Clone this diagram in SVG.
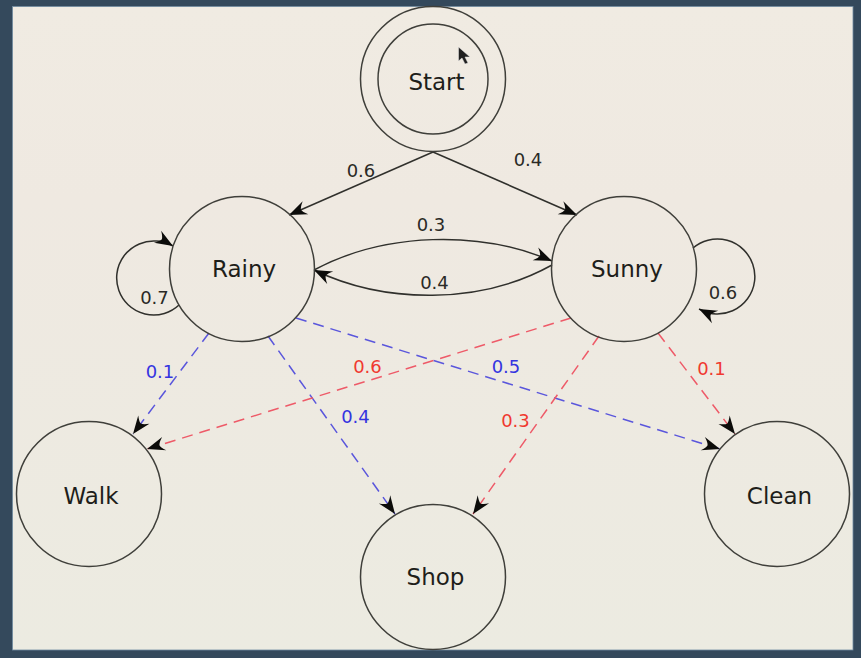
<svg xmlns="http://www.w3.org/2000/svg" width="861" height="658" viewBox="0 0 861 658">
<style>
.n{fill:none;stroke:#3f3f3a;stroke-width:1.5}
.e{fill:none;stroke:#30302c;stroke-width:1.5}
.b{fill:none;stroke:#5a56dc;stroke-width:1.5;stroke-dasharray:11 7}
.r{fill:none;stroke:#ee5a68;stroke-width:1.5;stroke-dasharray:11 7}
text{font-family:"DejaVu Sans",sans-serif;text-anchor:middle}
.t{font-size:23px;fill:#1e1e1a}
.l{font-size:18px;fill:#2a2a26}
.lb{font-size:18px;fill:#3434e0}
.lr{font-size:18px;fill:#f03a30}
</style>
<defs>
<linearGradient id="bg" x1="0" y1="0" x2="0" y2="1">
<stop offset="0" stop-color="#f0ebe2"/><stop offset="0.3" stop-color="#efe9e1"/><stop offset="1" stop-color="#ecebe1"/>
</linearGradient>
<marker id="a" markerUnits="userSpaceOnUse" markerWidth="24" markerHeight="20" refX="20" refY="10" orient="auto">
<path d="M20 10 L2 3 Q6.500 7.500 7 10 Q6.500 12.500 2 17 Z" fill="#0c0c0a"/>
</marker>
</defs>
<rect width="861" height="658" fill="#34495c"/>
<rect x="12.500" y="6.500" width="840.500" height="643.500" fill="url(#bg)" stroke="#6f8aa0" stroke-width="0.800"/>
<g id="connectors">
<path class="e" marker-end="url(#a)" d="M433 152L289 215"/>
<path class="e" marker-end="url(#a)" d="M433 152L577 215"/>
<path class="e" marker-end="url(#a)" d="M314 270C385 232 480 230 552 261"/>
<path class="e" marker-end="url(#a)" d="M552 265C480 305 385 304 314 270"/>
<path class="e" marker-end="url(#a)" d="M179 305A37 37 0 1 1 156 241.100C162 241 168 243 173 246"/>
<path class="e" marker-end="url(#a)" d="M693 248A37.500 37.500 0 1 1 716 314C710 314 705 312 699 309"/>
<path class="b" marker-end="url(#a)" d="M209 333L133 434"/>
<path class="b" marker-end="url(#a)" d="M268 336L395 514"/>
<path class="b" marker-end="url(#a)" d="M296 318L720 449"/>
<path class="r" marker-end="url(#a)" d="M571 318L147 449"/>
<path class="r" marker-end="url(#a)" d="M599 336L473 514"/>
<path class="r" marker-end="url(#a)" d="M658 333L735 434"/>
</g>
<g id="start"><circle class="n" cx="433" cy="79" r="72.500"/><circle class="n" cx="433" cy="79" r="55"/><text class="t" x="436.500" y="89.500">Start</text></g>
<g id="rainy"><circle class="n" cx="242" cy="269" r="72.500"/><text class="t" x="244" y="276.500">Rainy</text></g>
<g id="sunny"><circle class="n" cx="624" cy="269" r="72.500"/><text class="t" x="627" y="276.500">Sunny</text></g>
<g id="walk"><circle class="n" cx="89" cy="494" r="72.500"/><text class="t" x="91" y="503.500">Walk</text></g>
<g id="shop"><circle class="n" cx="433" cy="577" r="72.500"/><text class="t" x="435.500" y="584.500">Shop</text></g>
<g id="clean"><circle class="n" cx="777" cy="494" r="72.500"/><text class="t" x="779.500" y="503.500">Clean</text></g>
<g id="labels">
<text class="l" x="361" y="177">0.6</text>
<text class="l" x="528" y="166">0.4</text>
<text class="l" x="431" y="231">0.3</text>
<text class="l" x="434.500" y="289">0.4</text>
<text class="l" x="154.500" y="304">0.7</text>
<text class="l" x="723" y="299">0.6</text>
<text class="lb" x="160" y="378">0.1</text>
<text class="lb" x="355.500" y="423">0.4</text>
<text class="lb" x="506" y="373">0.5</text>
<text class="lr" x="367.500" y="373">0.6</text>
<text class="lr" x="515.500" y="427">0.3</text>
<text class="lr" x="711.500" y="375">0.1</text>
</g>
<path d="M458.500 47L458.500 61L462 58L465 64L468 63L465 57L470 57Z" fill="#202020" stroke="#e8e8e8" stroke-width="0.500"/>
</svg>
